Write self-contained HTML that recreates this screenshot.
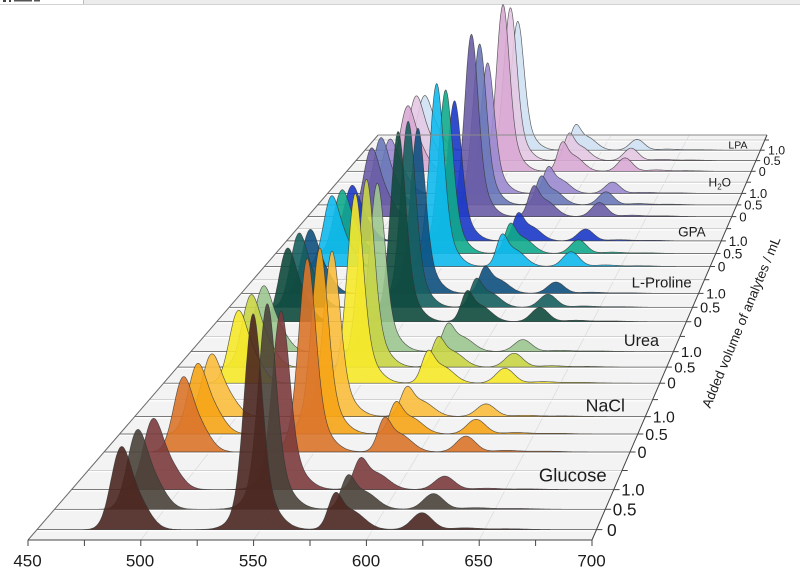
<!DOCTYPE html>
<html>
<head>
<meta charset="utf-8">
<style>
  html,body{margin:0;padding:0;background:#fff;}
  body{width:800px;height:576px;overflow:hidden;}
  svg{display:block;}
  text{font-family:"Liberation Sans",Arial,sans-serif;fill:#1c1c1c;}
</style>
</head>
<body>
<svg id="c" width="800" height="576" viewBox="0 0 800 576" xmlns="http://www.w3.org/2000/svg">
  <rect x="0" y="0" width="800" height="576" fill="#fff"/>
  <!-- top UI strip -->
  <rect x="84" y="0" width="716" height="4" fill="#ececec"/>
  <line x1="0" y1="4.5" x2="800" y2="4.5" stroke="#d2d2d2" stroke-width="1"/>
  <line x1="83.5" y1="0" x2="83.5" y2="4" stroke="#bbb" stroke-width="1"/>
  <rect x="3" y="0" width="3" height="2" fill="#444"/>
  <rect x="9" y="0" width="2" height="2" fill="#444"/>
  <rect x="14" y="0" width="18" height="1.5" fill="#555"/>
  <rect x="34" y="0" width="6" height="1.5" fill="#555"/>

  <g id="floor"></g>
  <g id="series"></g>
  <g id="axes"></g>

  <!-- x axis labels -->
  <g font-size="17" text-anchor="middle">
    <text x="27.5" y="566.5">450</text>
    <text x="140" y="566.5">500</text>
    <text x="253" y="566.5">550</text>
    <text x="366" y="566.5">600</text>
    <text x="478.5" y="566.5">650</text>
    <text x="591.5" y="566.5">700</text>
  </g>

  <!-- right axis tick labels -->
  <g>
    <text x="607" y="535.8" font-size="17.4">0</text>
    <text x="612.8" y="515.4" font-size="17.1">0.5</text>
    <text x="621.3" y="495.6" font-size="16.8">1.0</text>

    <text x="637.5" y="457.9" font-size="16.3">0</text>
    <text x="645.3" y="439.8" font-size="16.1">0.5</text>
    <text x="652.8" y="422.3" font-size="15.8">1.0</text>

    <text x="667.3" y="388.7" font-size="15.4">0</text>
    <text x="674.2" y="372.6" font-size="15.2">0.5</text>
    <text x="680.9" y="357" font-size="15">1.0</text>

    <text x="693.8" y="326.9" font-size="14.6">0</text>
    <text x="700.1" y="312.5" font-size="14.4">0.5</text>
    <text x="706.1" y="298.5" font-size="14.2">1.0</text>

    <text x="717.7" y="271.5" font-size="13.8">0</text>
    <text x="723.3" y="258.4" font-size="13.7">0.5</text>
    <text x="728.8" y="245.8" font-size="13.5">1.0</text>

    <text x="739.3" y="221.3" font-size="13.2">0</text>
    <text x="744.3" y="209.6" font-size="13">0.5</text>
    <text x="749.3" y="198" font-size="12.9">1.0</text>

    <text x="758.8" y="175.8" font-size="12.6">0</text>
    <text x="763.4" y="165.1" font-size="12.4">0.5</text>
    <text x="768" y="154.6" font-size="12.3">1.0</text>
  </g>

  <!-- group labels -->
  <g text-anchor="end">
    <text x="606.7" y="481.5" font-size="18.5">Glucose</text>
    <text x="625" y="411.5" font-size="17.7">NaCl</text>
    <text x="659" y="346" font-size="16.2">Urea</text>
    <text x="691.7" y="287.5" font-size="15">L-Proline</text>
    <text x="705.7" y="236.5" font-size="13.5">GPA</text>
    <text x="731" y="186.5" font-size="12">H<tspan dy="3" font-size="8">2</tspan><tspan dy="-3">O</tspan></text>
    <text x="747.5" y="148.5" font-size="10.5">LPA</text>
  </g>

  <!-- y axis title -->
  <text transform="translate(745.4,324) rotate(-67.4)" x="0" y="0" text-anchor="middle" font-size="13.4">Added volume of analytes / mL</text>
</svg>

<script>
(function(){
  var VX=1156, VY=-765, LK=0.45;
  function sU(u){return 1/(1+LK*u);}
  function pt(lam,H,u){var s=sU(u);var xf=28+(lam-450)*2.256;return [VX+(xf-VX)*s, VY+(1305-H)*s];}
  function f1(v){return v.toFixed(1);}
  function P(p){return f1(p[0])+','+f1(p[1]);}
  function G(x,m,s){return Math.exp(-(x-m)*(x-m)/(2*s*s));}
  function spec(l,a){
    var p1=(0.8*G(l,487,4.3)+0.35*G(l,494.5,5.5))/0.99;
    var p2=0.82*G(l,546.5,3.8)+0.18*G(l,548.5,7.5);
    var p3=(0.7*G(l,583,3)+0.5*G(l,590,6))/0.953;
    var p4=G(l,622,4.5)+0.1*G(l,641,6)+0.05*G(l,660,8);
    return a[0]*p1+a[1]*p2+a[2]*p3+a[3]*p4;
  }

  // floor
  var fl='';
  var A=pt(450,0,0),B=pt(700,0,0),C=pt(700,0,1),D=pt(450,0,1);
  fl+='<polygon points="'+P(A)+' '+P(B)+' '+P(C)+' '+P(D)+'" fill="#f3f3f3"/>';
  for(var lam=500;lam<=650;lam+=50){
    var a=pt(lam,0,0),b=pt(lam,0,1);
    fl+='<line x1="'+f1(a[0])+'" y1="'+f1(a[1])+'" x2="'+f1(b[0])+'" y2="'+f1(b[1])+'" stroke="#dadada" stroke-width="0.7"/>';
  }
  for(var i=0;i<28;i++){
    var u=(i+0.5)/28;
    var a=pt(450,0,u),b=pt(700,0,u);
    fl+='<line x1="'+f1(a[0])+'" y1="'+f1(a[1]+1.2)+'" x2="'+f1(b[0])+'" y2="'+f1(b[1]+1.2)+'" stroke="#ffffff" stroke-width="1.2"/>';
    fl+='<line x1="'+f1(a[0])+'" y1="'+f1(a[1])+'" x2="'+f1(b[0])+'" y2="'+f1(b[1])+'" stroke="#c6c6c6" stroke-width="0.8"/>';
  }
  document.getElementById('floor').innerHTML=fl;

  // series
  var groups=[
    {c:['#4b2620','#4a433a','#7b3b3d'], p1:[87,85,77], p2:[219,212,187]},
    {c:['#da742b','#f6a416','#fbbe3d'], p1:[84,80,72], p2:[209,204,184]},
    {c:['#f7e92b','#c9d546','#9dc690'], p1:[86,87,80], p2:[217,218,198]},
    {c:['#0f4a3e','#165f5f','#0e5080'], p1:[92,94,82], p2:[230,228,205]},
    {c:['#10b9ed','#11aa8c','#1b3ac8'], p1:[93,85,75], p2:[233,211,183]},
    {c:['#6a5ca6','#6b79b9','#9b89d0'], p1:[95,94,77], p2:[244,218,179]},
    {c:['#d9aad4','#e4c9e3','#d0e1f3'], p1:[95,95,81], p2:[234,217,185]}
  ];
  var p3=[37,35,33], p4=[17,16,14];
  var out='';
  for(var g=6; g>=0; g--){
    for(var k=2;k>=0;k--){
      var i=4*g+k, u=(i+0.5)/28;
      var gf=(g>=4)?1.1:1;
      var a=[groups[g].p1[k], groups[g].p2[k], p3[k]*gf, p4[k]*gf];
      var d='M'+P(pt(450,0,u));
      for(var l=450;l<=700.001;l+=0.5){ d+='L'+P(pt(l,spec(l,a),u)); }
      d+='L'+P(pt(700,0,u))+'Z';
      out+='<path d="'+d+'" fill="'+groups[g].c[k]+'" fill-opacity="0.9" stroke="#333" stroke-opacity="0.75" stroke-width="0.7" stroke-linejoin="round"/>';
    }
  }
  document.getElementById('series').innerHTML=out;

  // axes
  var ax='';
  ax+='<line x1="'+f1(A[0])+'" y1="'+f1(A[1])+'" x2="'+f1(D[0])+'" y2="'+f1(D[1])+'" stroke="#6a6a6a" stroke-width="1"/>';
  ax+='<line x1="'+f1(D[0])+'" y1="'+f1(D[1])+'" x2="'+f1(C[0])+'" y2="'+f1(C[1])+'" stroke="#8a8a8a" stroke-width="0.9"/>';
  ax+='<line x1="'+f1(B[0])+'" y1="'+f1(B[1])+'" x2="'+f1(C[0])+'" y2="'+f1(C[1])+'" stroke="#444" stroke-width="1"/>';
  ax+='<line x1="'+f1(A[0])+'" y1="'+f1(A[1])+'" x2="'+f1(B[0])+'" y2="'+f1(B[1])+'" stroke="#444" stroke-width="1"/>';
  for(var lam=450;lam<=700;lam+=25){
    var p=pt(lam,0,0);
    ax+='<line x1="'+f1(p[0])+'" y1="'+f1(p[1])+'" x2="'+f1(p[0])+'" y2="'+f1(p[1]+6)+'" stroke="#444" stroke-width="1"/>';
  }
  for(var i=0;i<28;i++){
    var u=(i+0.5)/28, s=sU(u);
    var p=pt(700,0,u);
    ax+='<line x1="'+f1(p[0])+'" y1="'+f1(p[1])+'" x2="'+f1(p[0]+6*s)+'" y2="'+f1(p[1])+'" stroke="#444" stroke-width="1"/>';
  }
  document.getElementById('axes').innerHTML=ax;
})();
</script>
</body>
</html>
